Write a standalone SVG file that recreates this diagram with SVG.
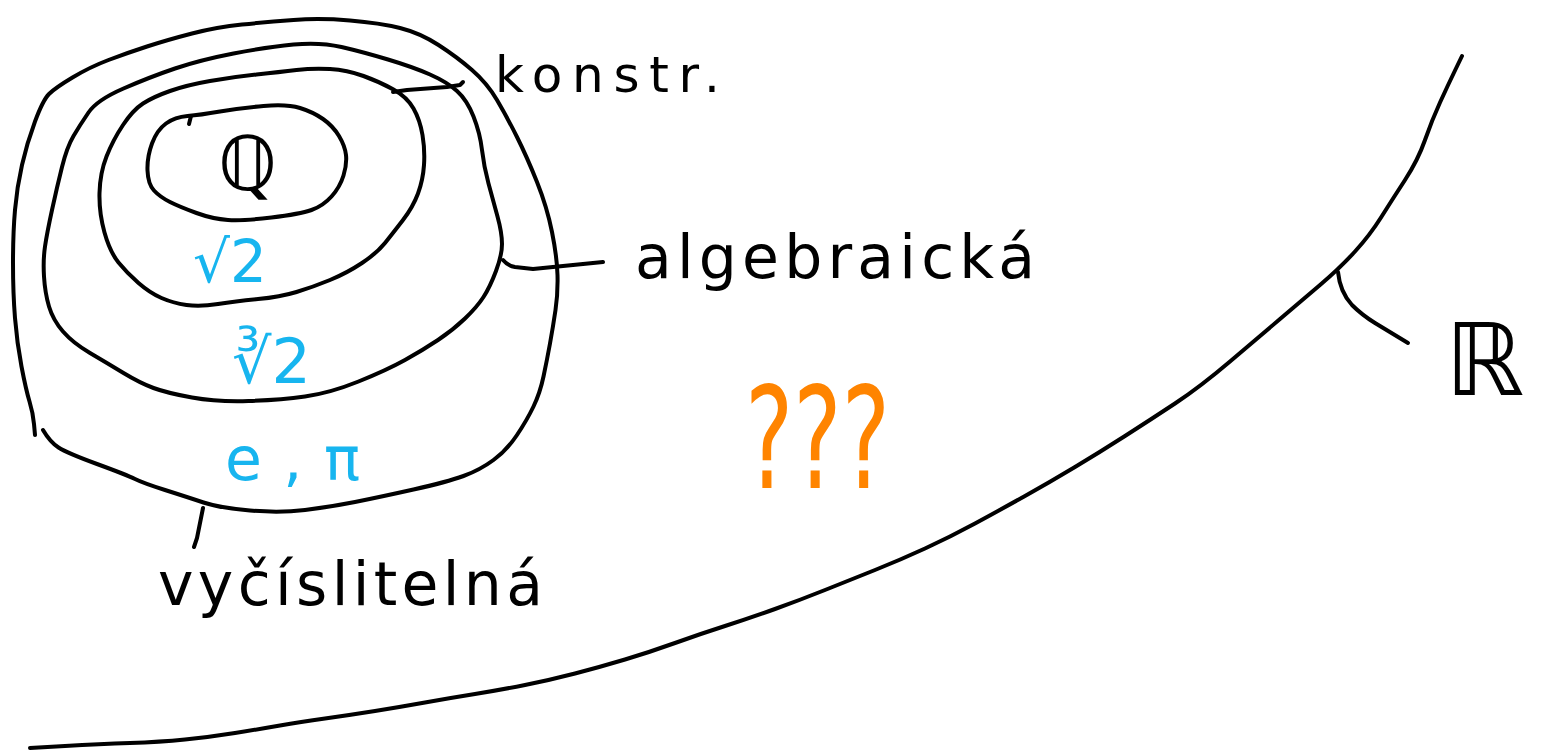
<svg xmlns="http://www.w3.org/2000/svg" width="1547" height="754" viewBox="0 0 1547 754">
<style>
.ln{fill:none;stroke:#000;stroke-width:4;stroke-linecap:round;stroke-linejoin:round}
.lbl{font-family:"DejaVu Sans","Liberation Sans",sans-serif;fill:#000}
.blue{font-family:"DejaVu Sans","Liberation Sans",sans-serif;fill:#17b5ef}
.orange{font-family:"DejaVu Sans","Liberation Sans",sans-serif;fill:#ff8400}
</style>
<rect width="1547" height="754" fill="#fff"/>
<g id="set-R">
<path class="ln" d="M30,748 L65,746 Q100,744 130,743 Q160,742 185,739.5 Q210,737 235,733 Q260,729 280,725.5 Q300,722 325,718.5 Q350,715 375,711 Q400,707 425,702.5 Q450,698 475,694 Q500,690 525,685 Q550,680 575,673.5 Q600,667 625,659.5 Q650,652 675,643 Q700,634 725,626 Q750,618 775,609 Q800,600 825,590 Q850,580 875,570 Q900,560 925,548.5 Q950,537 975,523.5 Q1000,510 1025,496 Q1050,482 1075,467 Q1100,452 1125,436 Q1150,420 1175,403.5 Q1200,387 1230,361.5 Q1260,336 1280,319 Q1300,302 1320,285 Q1340,268 1355,251.5 Q1370,235 1381,217.5 Q1392,200 1405,180 Q1418,160 1425,140 Q1432,120 1440,102.5 Q1448,85 1455,70.5 L1462,56"/>
<text class="lbl" x="1445" y="395" font-size="100">ℝ</text>
</g>
<g id="set-computable">
<path class="ln" d="M35,435 L34,424 Q33,413 29.5,401.5 Q26,390 21.5,366.5 Q17,343 15,318 Q13,293 13,263 Q13,233 15,210 Q17,187 22,165 Q27,143 35,121.5 Q43,100 49,94 Q55,88 72.5,77.5 Q90,67 108.5,60 Q127,53 147,46.5 Q167,40 192,33.5 Q217,27 242,24.5 Q267,22 293.5,20 Q320,18 350,20.5 Q380,23 400,28 Q420,33 438.5,45 Q457,57 472,70 Q487,83 497,100 Q507,117 517,137 Q527,157 537,182 Q547,207 552,232 Q557,257 557.5,275 Q558,293 555.5,310 Q553,327 550,343.5 Q547,360 543.5,376.5 Q540,393 533.5,406.5 Q527,420 517,435 Q507,450 493.5,460 Q480,470 463.5,476 Q447,482 413.5,489.5 Q380,497 355,502 Q330,507 305,510 Q280,513 250,510.5 Q220,508 203.5,502.5 Q187,497 165,490 Q143,483 135,479 Q127,475 97,464 Q67,453 58.5,447.5 Q50,442 43,430"/>
<text class="blue" x="225" y="480" font-size="60" textLength="135" lengthAdjust="spacing">e,π</text>
</g>
<g id="set-algebraic">
<path class="ln" d="M88.5,112.5 Q97,100 123.5,88.5 Q150,77 175,68.5 Q200,60 233.5,53.5 Q267,47 293.5,44.5 Q320,42 341.5,47 Q363,52 388,59.5 Q413,67 430,74.5 Q447,82 457,91 Q467,100 473.5,116.5 Q480,133 482,150 Q484,167 488.5,183.5 Q493,200 497.5,216.5 Q502,233 502,244 Q502,255 496,271 Q490,287 483.5,297 Q477,307 465,318.5 Q453,330 438,340 Q423,350 405,360 Q387,370 358.5,381.5 Q330,393 305,396.5 Q280,400 248.5,401 Q217,402 192,397.5 Q167,393 153.5,388 Q140,383 123.5,373 Q107,363 90,353 Q73,343 63,331.5 Q53,320 49,306.5 Q45,293 44,276.5 Q43,260 45,246.5 Q47,233 52,210 Q57,187 62,167 Q67,147 73.5,136 Q80,125 88.5,112.5 Z"/>
<text class="blue" x="232" y="383" font-size="62">∛2</text>
</g>
<g id="set-constructible">
<path class="ln" d="M143,103.5 Q153,97 170,91 Q187,85 210,81 Q233,77 256.5,74.5 Q280,72 296.5,70 Q313,68 330,69 Q347,70 363.5,76 Q380,82 393.5,89.5 Q407,97 413.5,108.5 Q420,120 422.5,135 Q425,150 424,165 Q423,180 418,193.5 Q413,207 403,220 Q393,233 385,243 Q377,253 362,263 Q347,273 330,280 Q313,287 296.5,292 Q280,297 258,299 Q236,301 218,304 Q200,307 186.5,305 Q173,303 161.5,298 Q150,293 138.5,283 Q127,273 118.5,262.5 Q110,252 104.5,232.5 Q99,213 99.5,193 Q100,173 106.5,156.5 Q113,140 123,125 Q133,110 143,103.5 Z"/>
<text class="blue" x="193" y="282" font-size="58">√2</text>
</g>
<g id="set-Q">
<path class="ln" d="M187.5,116 Q200,115 220,111.5 Q240,108 263.5,106 Q287,104 300,108 Q313,112 323,119 Q333,126 339,136 Q345,146 346,155 Q347,164 343.5,175.5 Q340,187 331.5,196.5 Q323,206 311.5,210 Q300,214 271.5,217.5 Q243,221 228,220 Q213,219 196.5,213 Q180,207 170,202 Q160,197 154,190.5 Q148,184 147.5,170.5 Q147,157 152,143.5 Q157,130 166,123.5 Q175,117 187.5,116 Z"/>
<path class="ln" d="M189,124 L191,116"/>
<text class="lbl" x="218" y="190" font-size="75">ℚ</text>
</g>
<g id="unknown">
<text class="orange" x="745" y="488" font-size="140" textLength="145" lengthAdjust="spacingAndGlyphs">???</text>
</g>
<g id="label-konstr">
<text class="lbl" x="495" y="92" font-size="50" textLength="225" lengthAdjust="spacing">konstr.</text>
</g>
<g id="label-algebraicka">
<text class="lbl" x="635" y="278" font-size="60" textLength="400" lengthAdjust="spacing">algebraická</text>
</g>
<g id="label-vycislitelna">
<text class="lbl" x="158" y="605" font-size="60" textLength="385" lengthAdjust="spacing">vyčíslitelná</text>
</g>
<g id="connectors">
<path class="ln" d="M393,92 L407,90 L447,87 L460,85 L463,82"/>
<path class="ln" d="M503,260 Q508,266 515,267 L533,269 L603,262"/>
<path class="ln" d="M203,508 L197,538 L194,547"/>
<path class="ln" d="M1338,272 Q1340,292 1352,305 Q1362,315 1375,323 L1408,343"/>
</g>
</svg>
